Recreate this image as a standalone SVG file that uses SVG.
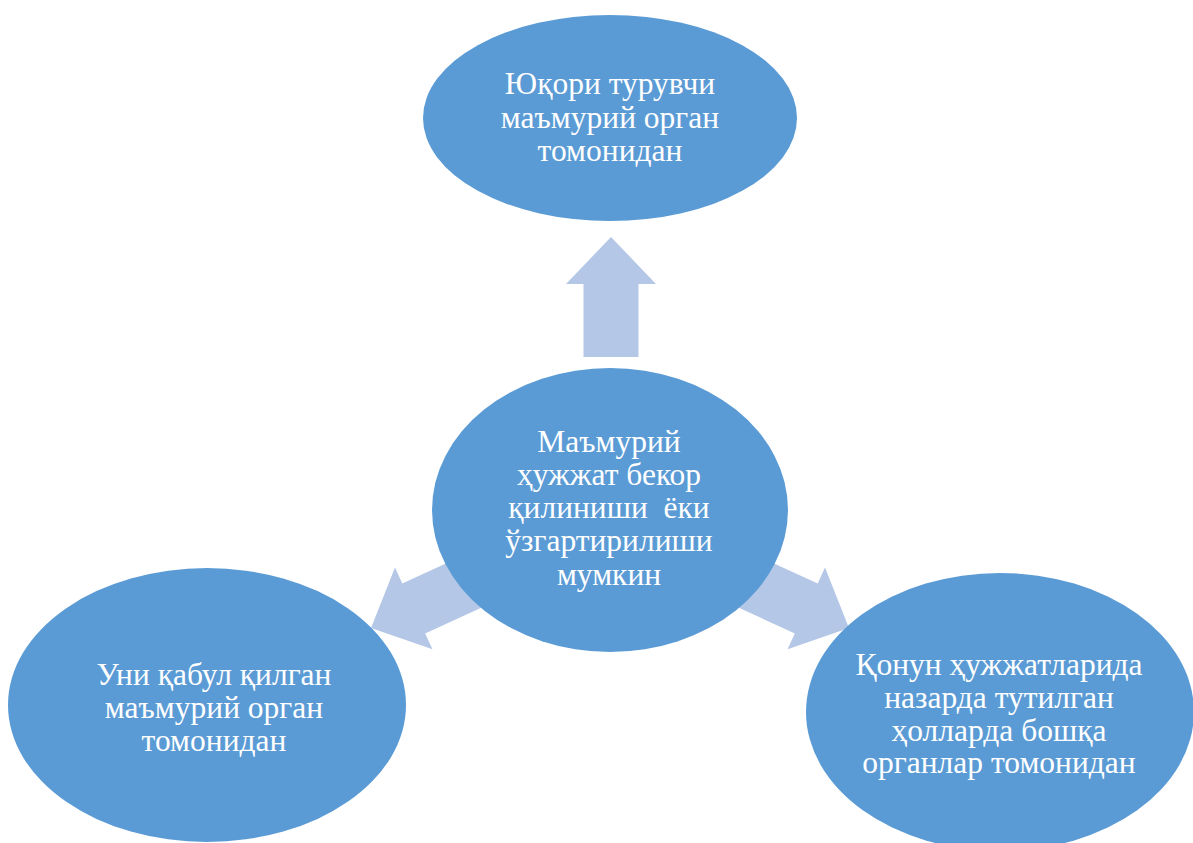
<svg xmlns="http://www.w3.org/2000/svg" width="1193" height="843" viewBox="0 0 1193 843">
<defs>
<style>
.node{fill:#5B9BD5;}
.arrow{fill:#B4C7E7;}
.lbl{font-family:"Liberation Serif","Times New Roman",serif;font-size:31.5px;fill:#FFFFFF;text-anchor:middle;}
</style>
<polygon id="arr" points="0,0 -47,-45 -47,-27.5 -120,-27.5 -120,27.5 -47,27.5 -47,45"/>
</defs>
<rect width="1193" height="843" fill="#FFFFFF"/>
<g id="connectors">
<use href="#arr" class="arrow" transform="translate(611,237) rotate(-90)"/>
<use href="#arr" class="arrow" transform="translate(371,628) rotate(155.4)"/>
<use href="#arr" class="arrow" transform="translate(849,628) rotate(24.6)"/>
</g>
<g id="node-top">
<ellipse class="node" cx="610" cy="118" rx="187" ry="103"/>
<text class="lbl"><tspan x="610" y="94">Юқори турувчи</tspan><tspan x="610" y="128">маъмурий орган</tspan><tspan x="610" y="161">томонидан</tspan></text>
</g>
<g id="node-center">
<ellipse class="node" cx="610" cy="510" rx="178" ry="142"/>
<text class="lbl"><tspan x="609" y="452">Маъмурий</tspan><tspan x="609" y="485">ҳужжат бекор</tspan><tspan x="609" y="518">қилиниши&#160; ёки</tspan><tspan x="609" y="551">ўзгартирилиши</tspan><tspan x="609" y="585">мумкин</tspan></text>
</g>
<g id="node-left">
<ellipse class="node" cx="207" cy="705" rx="199" ry="137"/>
<text class="lbl"><tspan x="214" y="685">Уни қабул қилган</tspan><tspan x="214" y="718">маъмурий орган</tspan><tspan x="214" y="751">томонидан</tspan></text>
</g>
<g id="node-right">
<ellipse class="node" cx="1000" cy="712" rx="194" ry="139"/>
<text class="lbl"><tspan x="999" y="675">Қонун ҳужжатларида</tspan><tspan x="999" y="708">назарда тутилган</tspan><tspan x="999" y="741">ҳолларда бошқа</tspan><tspan x="999" y="773">органлар томонидан</tspan></text>
</g>
</svg>
